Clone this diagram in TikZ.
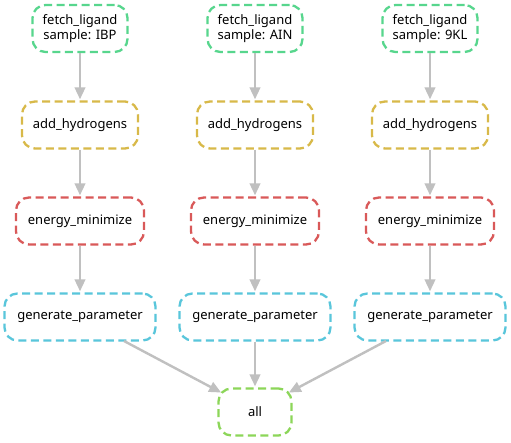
\documentclass[tikz,border=0pt]{standalone}
\usepackage{fontspec}
\setmainfont{Noto Sans}
\usetikzlibrary{arrows.meta}
\definecolor{cgreen}{RGB}{87,214,141}
\definecolor{cyellow}{RGB}{216,185,73}
\definecolor{cred}{RGB}{217,89,89}
\definecolor{ccyan}{RGB}{89,198,219}
\definecolor{clime}{RGB}{140,214,89}
\definecolor{cedge}{RGB}{192,192,192}
\begin{document}
\begin{tikzpicture}[x=1pt,y=-1pt,
  rule/.style={draw, line width=2.3pt, dash pattern=on 8pt off 4.5pt, rounded corners=13pt,
    minimum height=47pt, inner sep=0pt, align=center, font=\fontsize{13}{14.5}\selectfont},
  fetchbox/.style={rule, cgreen, text=black, minimum width=95pt},
  addbox/.style={rule, cyellow, text=black, minimum width=116pt},
  enbox/.style={rule, cred, text=black, minimum width=128pt},
  genbox/.style={rule, ccyan, text=black, minimum width=151pt},
  allbox/.style={rule, clime, text=black, minimum width=73pt},
  edge/.style={draw=cedge, line width=2.4pt, -{Triangle[length=12pt,width=10.5pt]}, shorten >=1pt}]
\fill[white] (0,0) rectangle (511,443);
\useasboundingbox (0,0) rectangle (511,443);
\foreach \x/\s/\n in {80/IBP/a, 255/AIN/b, 430/9KL/c} {
  \node[fetchbox] (f\n) at (\x,28.5) {fetch\_ligand\\sample: \s};
  \node[addbox] (h\n) at (\x,125) {add\_hydrogens};
  \node[enbox] (e\n) at (\x,221) {energy\_minimize};
  \node[genbox] (g\n) at (\x,317) {generate\_parameter};
  \draw[edge] (f\n) -- (h\n);
  \draw[edge] (h\n) -- (e\n);
  \draw[edge] (e\n) -- (g\n);
}
\node[allbox] (all) at (255,412) {all};
\coordinate (ga1) at (124,341);
\coordinate (gc1) at (386,341);
\coordinate (alll) at (222,393);
\coordinate (allr) at (288,393);
\draw[edge] (ga1) -- (alll);
\draw[edge] (gb) -- (all);
\draw[edge] (gc1) -- (allr);
\end{tikzpicture}
\end{document}
